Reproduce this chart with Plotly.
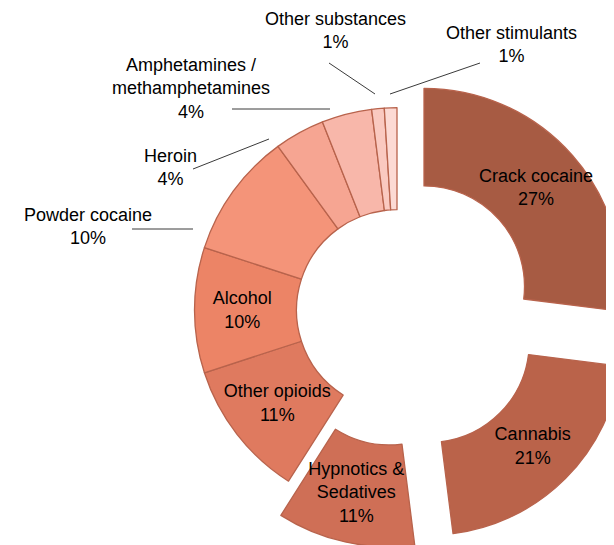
import math
import plotly.graph_objects as go

# ---- data ----
labels = ["Crack cocaine", "Cannabis", "Hypnotics &<br>Sedatives", "Other opioids",
          "Alcohol", "Powder cocaine", "Heroin", "Amphetamines /<br>methamphetamines",
          "Other substances", "Other stimulants"]
values = [27, 21, 11, 11, 10, 10, 4, 4, 1, 1]

# ---- styles / layout ----
W, H = 614, 545
PAGE_OFF = 8                   # page body margin of the viewer (px)
FONT = "Arial, Liberation Sans, sans-serif"
FS = 18
colors = ["#A75B43", "#BA634A", "#CF6F56", "#DF7A5F", "#EC8466",
          "#F49479", "#F6A592", "#F8B7AA", "#FAC9C0", "#FCDAD4"]
edge = "#B8634C"
CX, CY = 397.0, 310.2          # ring centre (screen px)
R_OUT, R_IN = 202.5, 100.5     # ring radii (px)
explode_px = {0: 36, 1: 45, 2: 35}   # exploded slices: offset in px
outside = {  # label centre (screen px) and leader line (screen px)
    5: ((88, 226), ((132, 229), (193, 229))),
    6: ((170, 167.5), ((193, 169), (269, 139))),
    7: ((191, 89), ((232, 109), (330, 109))),
    8: ((335, 30), ((329, 63), (375, 94))),
    9: ((511, 44), ((390, 94), (480, 63))),
}

n = len(values)
total = float(sum(values))
TRANSP = "rgba(0,0,0,0)"


def px(x):
    return (x - PAGE_OFF) / W


def py(y):
    return 1 - (y - PAGE_OFF) / H


def slice_text(i):
    return f"{labels[i]}<br>{values[i]}%"


fig = go.Figure()
groups = [None] + list(explode_px.keys())
for g in groups:
    if g is None:
        members = [i for i in range(n) if i not in explode_px]
        cx, cy = CX, CY
    else:
        members = [g]
        mid = (sum(values[:g]) + values[g] / 2.0) / total * 2 * math.pi
        d = explode_px[g]
        cx = CX + d * math.sin(mid)
        cy = CY - d * math.cos(mid)
    fx, fy = cx - PAGE_OFF, cy - PAGE_OFF
    r = min(R_OUT, W - fx, fx, fy, H - fy)
    fig.add_trace(go.Pie(
        labels=labels, values=values, sort=False, direction="clockwise", rotation=0,
        hole=R_IN / r,
        domain=dict(x=[(fx - r) / W, (fx + r) / W], y=[1 - (fy + r) / H, 1 - (fy - r) / H]),
        marker=dict(colors=[colors[i] if i in members else TRANSP for i in range(n)],
                    line=dict(color=[edge if i in members else TRANSP for i in range(n)],
                              width=1.3)),
        text=[slice_text(i) if (i in members and i not in outside) else "" for i in range(n)],
        textinfo="text", textposition="inside", insidetextorientation="horizontal",
        insidetextfont=dict(family=FONT, size=FS, color="#000000"),
        hoverinfo="skip", showlegend=False,
    ))

annotations = []
shapes = []
for i, ((tx, ty), ((x0, y0), (x1, y1))) in outside.items():
    annotations.append(dict(
        x=px(tx), y=py(ty), xref="paper", yref="paper", text=slice_text(i),
        showarrow=False, xanchor="center", yanchor="middle", align="center",
        font=dict(family=FONT, size=FS, color="#000000")))
    shapes.append(dict(type="line", xref="paper", yref="paper",
                       x0=px(x0), y0=py(y0), x1=px(x1), y1=py(y1),
                       line=dict(color="#3a3a3a", width=1)))

fig.update_layout(
    width=W, height=H, margin=dict(l=0, r=0, t=0, b=0),
    paper_bgcolor="white", plot_bgcolor="white", showlegend=False,
    uniformtext=dict(minsize=FS, mode="show"),
    annotations=annotations, shapes=shapes,
    font=dict(family=FONT, size=FS, color="#000000"),
)

fig.write_html("out.html")
